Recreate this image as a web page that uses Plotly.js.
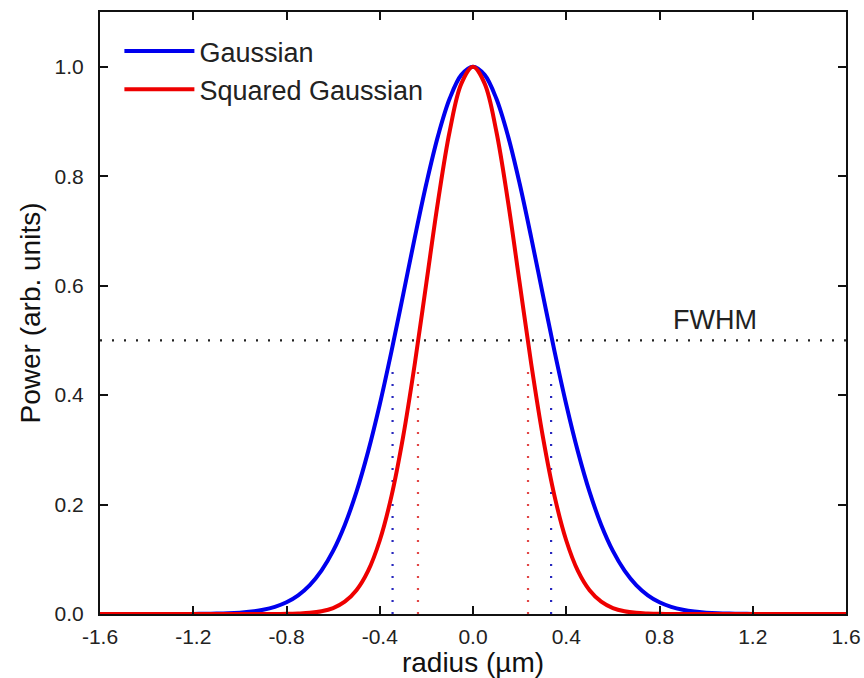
<!DOCTYPE html>
<html>
<head>
<meta charset="utf-8">
<script src="https://cdn.plot.ly/plotly-3.0.1.min.js"></script>
<style>html,body{margin:0;padding:0;background:#fff;}#chart{width:864px;height:678px;}</style>
</head>
<body>
<div id="chart"></div>
<script>
// radius values (µm)
var radius = [-1.60,-1.55,-1.50,-1.45,-1.40,-1.35,-1.30,-1.25,-1.20,-1.15,-1.10,-1.05,-1.00,-0.95,-0.90,-0.85,-0.80,-0.75,-0.70,-0.65,-0.60,-0.55,-0.50,-0.45,-0.40,-0.35,-0.30,-0.25,-0.20,-0.15,-0.10,-0.05,0.00,0.05,0.10,0.15,0.20,0.25,0.30,0.35,0.40,0.45,0.50,0.55,0.60,0.65,0.70,0.75,0.80,0.85,0.90,0.95,1.00,1.05,1.10,1.15,1.20,1.25,1.30,1.35,1.40,1.45,1.50,1.55,1.60];
// Gaussian power (arb. units)
var gaussian = [0,0,0,0,0,0,0,0.0001,0.0002,0.0004,0.0007,0.0013,0.0025,0.0044,0.0077,0.0131,0.0215,0.0342,0.0529,0.0793,0.1153,0.1628,0.2231,0.2967,0.3829,0.4795,0.5827,0.6873,0.7866,0.8737,0.9418,0.9851,1.0,0.9851,0.9418,0.8737,0.7866,0.6873,0.5827,0.4795,0.3829,0.2967,0.2231,0.1628,0.1153,0.0793,0.0529,0.0342,0.0215,0.0131,0.0077,0.0044,0.0025,0.0013,0.0007,0.0004,0.0002,0.0001,0,0,0,0,0,0,0];
// Squared Gaussian power (arb. units)
var squaredGaussian = [0,0,0,0,0,0,0,0,0,0,0,0,0,0,0,0.0001,0.0003,0.0009,0.0021,0.0050,0.0109,0.0225,0.0434,0.0787,0.1343,0.2149,0.3232,0.4564,0.6053,0.7540,0.8821,0.9691,1.0,0.9691,0.8821,0.7540,0.6053,0.4564,0.3232,0.2149,0.1343,0.0787,0.0434,0.0225,0.0109,0.0050,0.0021,0.0009,0.0003,0.0001,0,0,0,0,0,0,0,0,0,0,0,0,0,0,0];
// half-maximum level and crossing radii
var halfMaxX = [-1.6, 1.6];
var halfMaxY = [0.5, 0.5];
var gaussFwhmLeft = [-0.345, -0.345];
var gaussFwhmRight = [0.335, 0.335];
var sqFwhmLeft = [-0.236, -0.236];
var sqFwhmRight = [0.236, 0.236];
var dropY = [0, 0.46];
var xTicks = [-1.6,-1.2,-0.8,-0.4,0.0,0.4,0.8,1.2,1.6];
var xTickText = ['-1.6','-1.2','-0.8','-0.4','0.0','0.4','0.8','1.2','1.6'];
var yTicks = [0,0.2,0.4,0.6,0.8,1.0];
var yTickText = ['0.0','0.2','0.4','0.6','0.8','1.0'];

var font = 'Liberation Sans, Arial, sans-serif';
var dotBlue = {color:'rgb(40,40,190)', width:2.2, dash:'2px,10px'};
var dotRed = {color:'rgb(225,70,70)', width:2.2, dash:'2px,10px'};

var traces = [
  {x:halfMaxX, y:halfMaxY, mode:'lines', line:{color:'#222', width:2.2, dash:'2px,10px'}, showlegend:false, hoverinfo:'skip'},
  {x:gaussFwhmLeft, y:dropY, mode:'lines', line:dotBlue, showlegend:false, hoverinfo:'skip'},
  {x:gaussFwhmRight, y:dropY, mode:'lines', line:dotBlue, showlegend:false, hoverinfo:'skip'},
  {x:sqFwhmLeft, y:dropY, mode:'lines', line:dotRed, showlegend:false, hoverinfo:'skip'},
  {x:sqFwhmRight, y:dropY, mode:'lines', line:dotRed, showlegend:false, hoverinfo:'skip'},
  {x:radius, y:gaussian, mode:'lines', name:'Gaussian', line:{color:'#0000ee', width:4, shape:'spline'}},
  {x:radius, y:squaredGaussian, mode:'lines', name:'Squared Gaussian', line:{color:'#ee0000', width:4, shape:'spline'}}
];

var layout = {
  width:864, height:678,
  margin:{l:100, r:18, t:12, b:64},
  paper_bgcolor:'#fff', plot_bgcolor:'#fff',
  font:{family:font, color:'#222'},
  showlegend:true,
  legend:{x:0.026, y:0.975, xanchor:'left', yanchor:'top', bgcolor:'rgba(0,0,0,0)', itemwidth:70, font:{size:27, family:font, color:'#222'}},
  xaxis:{range:[-1.6,1.6], tickvals:xTicks, ticktext:xTickText, ticks:'inside', ticklen:8, tickwidth:2, tickcolor:'#111',
    showline:true, linecolor:'#111', linewidth:2, mirror:'allticks', showgrid:false, zeroline:false,
    tickfont:{size:21, family:font, color:'#222'}, ticklabelstandoff:3,
    title:{text:'radius (µm)', font:{size:28, family:font, color:'#111'}, standoff:0}},
  yaxis:{range:[0,1.1], tickvals:yTicks, ticktext:yTickText, ticks:'inside', ticklen:8, tickwidth:2, tickcolor:'#111',
    showline:true, linecolor:'#111', linewidth:2, mirror:'allticks', showgrid:false, zeroline:false,
    tickfont:{size:21, family:font, color:'#222'}, ticklabelstandoff:10,
    title:{text:'Power (arb. units)', font:{size:28, family:font, color:'#111'}, standoff:6}},
  annotations:[{x:1.04, y:0.5, xref:'x', yref:'y', yanchor:'bottom', yshift:3, text:'FWHM', showarrow:false, font:{size:27, family:font, color:'#222'}}]
};

Plotly.newPlot('chart', traces, layout, {displayModeBar:false, staticPlot:true});
</script>
</body>
</html>
